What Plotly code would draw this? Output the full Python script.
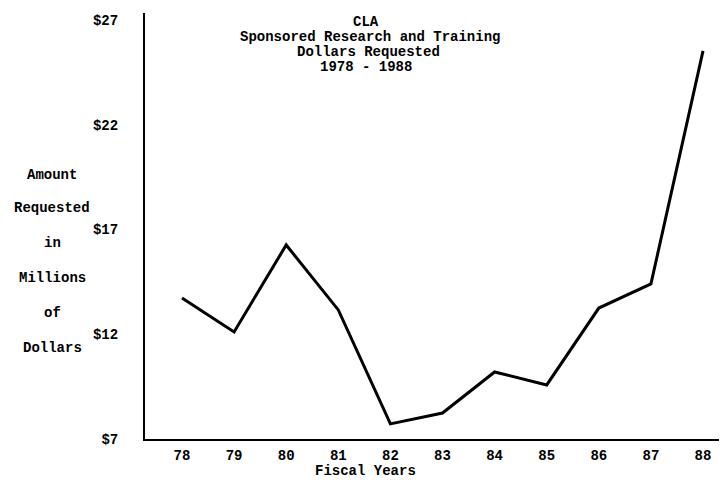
import plotly.graph_objects as go

years = [78, 79, 80, 81, 82, 83, 84, 85, 86, 87, 88]
year_labels = ["78", "79", "80", "81", "82", "83", "84", "85", "86", "87", "88"]
amounts = [13.73, 12.11, 16.26, 13.16, 7.72, 8.24, 10.2, 9.58, 13.25, 14.4, 25.52]
y_ticks = [7, 12, 17, 22, 27]
y_tick_labels = ["$7", "$12", "$17", "$22", "$27"]
title_lines = ["CLA", "Sponsored Research and Training", "Dollars Requested", "1978 - 1988"]
y_title_lines = ["Amount", "Requested", "in", "Millions", "of", "Dollars"]

FONT = "Liberation Mono"
fnt = dict(family=FONT, size=14, color="black", weight="bold")
tfnt = dict(family=FONT, size=14, color="black", weight="bold")

# page body has an 8px margin: work in screen pixels, then shift
OFF = 8
W, H = 727 - OFF, 480 - OFF
L_s, T_s, R_s, B_s = 145, 13, 727, 439  # plot area in screen px
L, T = L_s - OFF, T_s - OFF
R, B = W - (R_s - OFF), H - (B_s - OFF)
pw, ph = W - L - R, H - T - B


def paper(px, py):
    return (px - OFF - L) / pw, 1 - (py - OFF - T) / ph


fig = go.Figure()
fig.add_trace(go.Scatter(x=years, y=amounts, mode="lines",
                         line=dict(color="black", width=3), showlegend=False))

annotations = []
title_pos = [(366, 22), (370, 37), (368, 52), (366, 67)]
for txt, (px, py) in zip(title_lines, title_pos):
    x, y = paper(px, py)
    annotations.append(dict(text=txt, x=x, y=y, xref="paper", yref="paper",
                            showarrow=False, font=tfnt, xanchor="center", yanchor="middle"))
ytitle_y = [175, 208, 243, 278, 313, 348]
for txt, py in zip(y_title_lines, ytitle_y):
    x, y = paper(52, py)
    annotations.append(dict(text=txt, x=x, y=y, xref="paper", yref="paper",
                            showarrow=False, font=fnt, xanchor="center", yanchor="middle"))
x, y = paper(365, 471)
annotations.append(dict(text="Fiscal Years", x=x, y=y, xref="paper", yref="paper",
                        showarrow=False, font=fnt, xanchor="center", yanchor="middle"))

fig.update_layout(
    width=W, height=H,
    margin=dict(l=L, r=R, t=T, b=B, pad=0),
    paper_bgcolor="white", plot_bgcolor="white",
    annotations=annotations,
    xaxis=dict(range=[77.29, 88.46], tickmode="array", tickvals=years, ticktext=year_labels,
               showgrid=False, zeroline=False, showline=True, linecolor="black", linewidth=2,
               ticks="", tickfont=fnt, ticklabelstandoff=2),
    yaxis=dict(range=[7, 27.33], tickmode="array", tickvals=y_ticks, ticktext=y_tick_labels,
               showgrid=False, zeroline=False, showline=True, linecolor="black", linewidth=2,
               ticks="", tickfont=fnt, ticklabelstandoff=22),
)

fig.write_html("out.html")
